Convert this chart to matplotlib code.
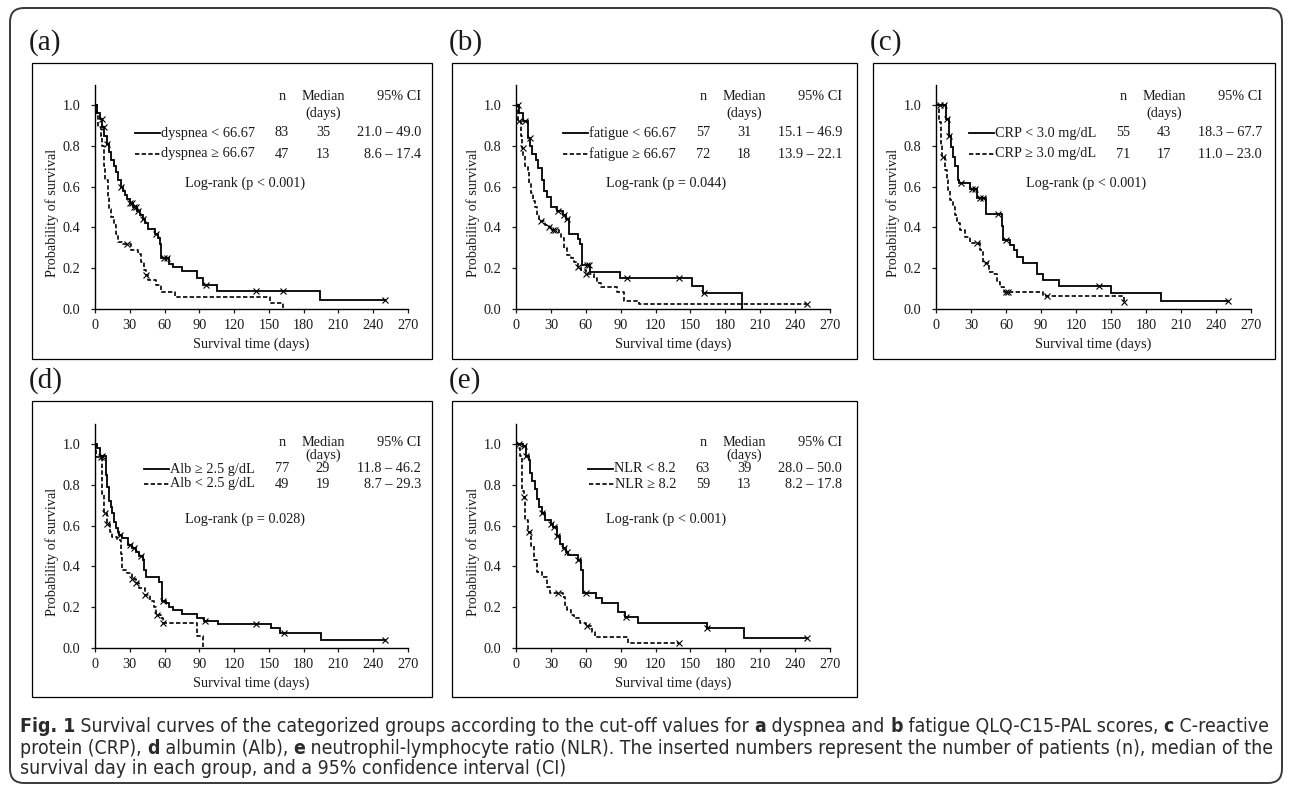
import numpy as np
import matplotlib
matplotlib.use("Agg")
import matplotlib.pyplot as plt
from matplotlib.patches import Rectangle, FancyBboxPatch

# ---- Kaplan-Meier curves (time in days, survival) ----
# (a) dyspnea
dysp_lo_t = [0, 2, 4, 6, 8, 10, 12, 14, 16, 18, 20, 22, 24, 26, 28, 30, 33, 36, 39, 41, 43, 46, 52, 54, 56, 57, 64, 67, 75, 88, 93, 105, 194]
dysp_lo_s = [1.0, 0.96, 0.93, 0.89, 0.85, 0.81, 0.77, 0.73, 0.70, 0.67, 0.63, 0.60, 0.58, 0.56, 0.54, 0.52, 0.50, 0.48, 0.46, 0.44, 0.42, 0.39, 0.37, 0.35, 0.32, 0.25, 0.22, 0.205, 0.188, 0.150, 0.118, 0.090, 0.045]
dysp_lo_cens = [5.7, 7.8, 10.6, 22, 30, 32, 34, 35.5, 37, 41, 53, 59.7, 61.7, 95.4, 139, 162, 250]
dysp_hi_t = [0, 2, 3, 5, 6, 8, 9, 11, 12.5, 14, 16, 18, 20, 24, 31, 37, 40, 42, 44, 46, 53, 57, 69, 151, 162]
dysp_hi_s = [1.0, 0.96, 0.89, 0.85, 0.80, 0.70, 0.63, 0.55, 0.49, 0.45, 0.41, 0.37, 0.33, 0.32, 0.29, 0.27, 0.23, 0.19, 0.167, 0.142, 0.118, 0.085, 0.06, 0.028, 0.0]
dysp_hi_cens = [28, 44]

# (b) fatigue
fat_lo_t = [0, 3, 6, 10, 12, 14, 17, 19, 22, 24, 27, 30, 35, 40, 43, 45.7, 53, 55, 57, 64, 89, 151, 161, 194]
fat_lo_s = [1.0, 0.96, 0.92, 0.84, 0.80, 0.76, 0.73, 0.69, 0.63, 0.58, 0.55, 0.50, 0.48, 0.46, 0.44, 0.37, 0.345, 0.32, 0.215, 0.183, 0.154, 0.114, 0.077, 0.0]
fat_lo_cens = [2, 8, 11.7, 36.3, 41, 44, 61, 63, 95.7, 140, 161.4]
fat_hi_t = [0, 2, 4, 5, 6, 8, 10, 11, 13, 15, 16, 18, 20, 25, 28, 31, 37, 39, 41, 44, 47, 50, 53, 56, 60, 67, 70, 73, 87, 93, 106]
fat_hi_s = [1.0, 0.92, 0.85, 0.79, 0.75, 0.70, 0.67, 0.62, 0.57, 0.53, 0.50, 0.46, 0.43, 0.41, 0.40, 0.387, 0.374, 0.347, 0.30, 0.265, 0.248, 0.232, 0.204, 0.19, 0.17, 0.15, 0.126, 0.11, 0.085, 0.041, 0.023]
fat_hi_cens = [2.5, 5.7, 21.4, 28.6, 31.5, 33.5, 53.7, 60, 250]

# (c) CRP
crp_lo_t = [0, 8.6, 10.9, 12.9, 14.3, 16.6, 18.6, 20, 29.2, 35.5, 42.9, 56.3, 57.8, 63.5, 66.9, 69.2, 74.4, 86.9, 92.1, 105, 150.2, 193]
crp_lo_s = [1.0, 0.93, 0.85, 0.795, 0.747, 0.70, 0.634, 0.62, 0.587, 0.543, 0.466, 0.407, 0.338, 0.314, 0.289, 0.253, 0.224, 0.170, 0.142, 0.113, 0.077, 0.039]
crp_lo_cens = [3, 7.1, 9, 11, 21.4, 30.6, 33.5, 37.8, 40.6, 53.5, 60, 139.3, 250]
crp_hi_t = [0, 2.9, 4.5, 5.5, 8, 9.2, 10.5, 12, 14.9, 16.5, 17.7, 20.6, 24.9, 29.2, 37.8, 40.6, 45.8, 49.2, 52, 54.9, 58, 92, 161]
crp_hi_s = [1.0, 0.916, 0.80, 0.747, 0.68, 0.63, 0.585, 0.535, 0.50, 0.46, 0.42, 0.387, 0.355, 0.322, 0.29, 0.224, 0.183, 0.172, 0.134, 0.11, 0.085, 0.065, 0.033]
crp_hi_cens = [5.7, 34.9, 42.9, 60, 62, 95, 161.3]

# (d) albumin
alb_hi_t = [0, 2, 4, 9.2, 10.7, 12.1, 13.5, 15, 16.5, 17.9, 19.5, 21, 23.6, 28.8, 32, 35.2, 38, 41, 42.4, 43.8, 54.8, 58.2, 61, 64, 67, 75, 88, 94, 106, 152, 160, 195]
alb_hi_s = [1.0, 0.98, 0.94, 0.846, 0.79, 0.72, 0.69, 0.66, 0.62, 0.59, 0.57, 0.553, 0.537, 0.504, 0.488, 0.47, 0.45, 0.43, 0.38, 0.35, 0.325, 0.23, 0.22, 0.20, 0.185, 0.165, 0.148, 0.134, 0.118, 0.096, 0.075, 0.04]
alb_hi_cens = [6.3, 21.3, 30.3, 33.7, 39.5, 58.8, 95.1, 139, 163, 250]
alb_lo_t = [0, 1.2, 6.3, 7.8, 10.7, 13, 15, 19.3, 22.2, 23.6, 28, 31.7, 35.2, 38, 42.9, 47.3, 51, 53, 56.8, 58.8, 88.4, 92.8]
alb_lo_s = [1.0, 0.935, 0.756, 0.66, 0.61, 0.57, 0.545, 0.53, 0.46, 0.38, 0.366, 0.34, 0.317, 0.293, 0.26, 0.228, 0.203, 0.163, 0.146, 0.122, 0.061, 0.0]
alb_lo_cens = [4.9, 8.6, 10.7, 32, 35.5, 43, 53.5, 59]

# (e) NLR
nlr_lo_t = [0, 6, 8.3, 10.9, 12.3, 13.7, 16.6, 18, 20, 22.3, 24.6, 30, 32, 35, 38, 40.5, 43, 45, 53.5, 56, 58, 69, 74, 88, 94, 105, 164, 196]
nlr_lo_s = [1.0, 0.99, 0.94, 0.92, 0.86, 0.82, 0.78, 0.73, 0.69, 0.66, 0.626, 0.607, 0.593, 0.55, 0.51, 0.488, 0.47, 0.455, 0.43, 0.38, 0.27, 0.246, 0.221, 0.175, 0.15, 0.124, 0.096, 0.05]
nlr_lo_cens = [2.3, 6.6, 8.6, 22.5, 30.3, 32.3, 35.2, 40.9, 43.7, 53.7, 60, 95, 164, 250]
nlr_hi_t = [0, 2.3, 3.7, 5.1, 6.6, 8, 10, 13.1, 15.1, 18, 22.3, 26.6, 29, 40, 42, 44, 47, 50, 55, 60, 65, 68, 96]
nlr_hi_s = [1.0, 0.98, 0.94, 0.77, 0.74, 0.626, 0.57, 0.50, 0.43, 0.374, 0.35, 0.30, 0.27, 0.25, 0.21, 0.186, 0.16, 0.145, 0.125, 0.11, 0.08, 0.055, 0.026]
nlr_hi_cens = [6.6, 11.4, 36, 61, 140]

# ---- inserted tables ----
panel_tags = ["(a)", "(b)", "(c)", "(d)", "(e)"]
labels_solid = ["dyspnea < 66.67", "fatigue < 66.67", "CRP < 3.0 mg/dL", "Alb ≥ 2.5 g/dL", "NLR < 8.2"]
labels_dashed = ["dyspnea ≥ 66.67", "fatigue ≥ 66.67", "CRP ≥ 3.0 mg/dL", "Alb < 2.5 g/dL", "NLR ≥ 8.2"]
n_solid = [83, 57, 55, 77, 63]
n_dashed = [47, 72, 71, 49, 59]
median_solid = [35, 31, 43, 29, 39]
median_dashed = [13, 18, 17, 19, 13]
ci_solid = ["21.0 – 49.0", "15.1 – 46.9", "18.3 – 67.7", "11.8 – 46.2", "28.0 – 50.0"]
ci_dashed = ["8.6 – 17.4", "13.9 – 22.1", "11.0 – 23.0", "8.7 – 29.3", "8.2 – 17.8"]
logrank = ["Log-rank (p < 0.001)", "Log-rank (p = 0.044)", "Log-rank (p < 0.001)",
           "Log-rank (p = 0.028)", "Log-rank (p < 0.001)"]
x_ticks = list(range(0, 271, 30))
y_ticks = [0.0, 0.2, 0.4, 0.6, 0.8, 1.0]

solid_t = [dysp_lo_t, fat_lo_t, crp_lo_t, alb_hi_t, nlr_lo_t]
solid_s = [dysp_lo_s, fat_lo_s, crp_lo_s, alb_hi_s, nlr_lo_s]
solid_c = [dysp_lo_cens, fat_lo_cens, crp_lo_cens, alb_hi_cens, nlr_lo_cens]
dashed_t = [dysp_hi_t, fat_hi_t, crp_hi_t, alb_lo_t, nlr_hi_t]
dashed_s = [dysp_hi_s, fat_hi_s, crp_hi_s, alb_lo_s, nlr_hi_s]
dashed_c = [dysp_hi_cens, fat_hi_cens, crp_hi_cens, alb_lo_cens, nlr_hi_cens]

caption_lines = [
    [("Fig. 1", True), (" Survival curves of the categorized groups according to the cut-off values for ", False),
     ("a", True), (" dyspnea and ", False), ("b", True), (" fatigue QLQ-C15-PAL scores, ", False),
     ("c", True), (" C-reactive", False)],
    [("protein (CRP), ", False), ("d", True), (" albumin (Alb), ", False), ("e", True),
     (" neutrophil-lymphocyte ratio (NLR). The inserted numbers represent the number of patients (n), median of the", False)],
    [("survival day in each group, and a 95% confidence interval (CI)", False)],
]

# ---- layout (pixels) ----
W, H = 1290, 793
box_l = [32, 452, 873, 32, 452]
box_r = [432, 857, 1275, 432, 857]
box_t = [63, 63, 63, 401, 401]
box_b = [359, 359, 359, 697, 697]
ax_x0 = [95, 516, 936, 95, 516]
ax_x1 = [408, 830, 1251, 408, 830]
ax_y0 = [309, 309, 309, 648, 648]
px_per_unit = 204.0
rows_top = [34, 50, 70, 91, 120]
rows_bot = [42, 54, 68, 83, 118]

SERIF = ['Liberation Serif', 'DejaVu Serif']
plt.rcParams['font.family'] = SERIF
TXT = '#1a1a1a'
FS = 10.3


def surv_at(ts, ss, t):
    i = np.searchsorted(ts, t, side='right') - 1
    return ss[i]


def draw_km(ax, ts, ss, cens, ls, lw):
    end = max(ts[-1], max(cens))
    x = list(ts) + [end]
    y = list(ss) + [ss[-1]]
    ax.step(x, y, where='post', color='black', lw=lw, linestyle=ls, solid_joinstyle='miter')
    cy = [surv_at(ts, ss, t) for t in cens]
    ax.plot(cens, cy, linestyle='none', marker='x', ms=4.8, mew=0.8, color='black')


fig = plt.figure(figsize=(W / 100, H / 100), dpi=100)
bg = fig.add_axes([0, 0, 1, 1])
bg.set_xlim(0, W)
bg.set_ylim(H, 0)
bg.axis('off')

bg.add_patch(FancyBboxPatch((10, 8), 1272, 775, boxstyle="round,pad=0,rounding_size=14",
                            fc='none', ec='#3a3a3a', lw=1.4))

DASH = (0, (2.6, 1.4))
label_texts = []
for i in range(5):
    bg.add_patch(Rectangle((box_l[i], box_t[i]), box_r[i] - box_l[i], box_b[i] - box_t[i],
                           fc='none', ec='black', lw=0.9))
    bg.text(box_l[i] - 3, box_t[i] - 20, panel_tags[i], fontsize=21, va='center', ha='left', color=TXT)

    h = 1.1 * px_per_unit
    ax = fig.add_axes([ax_x0[i] / W, (H - ax_y0[i]) / H, (ax_x1[i] - ax_x0[i]) / W, h / H])
    ax.set_facecolor('none')
    draw_km(ax, solid_t[i], solid_s[i], solid_c[i], '-', 1.3)
    draw_km(ax, dashed_t[i], dashed_s[i], dashed_c[i], DASH, 1.2)
    ax.set_xlim(0, 270)
    ax.set_ylim(0, 1.1)
    ax.set_xticks(x_ticks)
    ax.set_yticks(y_ticks)
    ax.set_yticklabels([f"{v:.1f}" for v in y_ticks])
    for s in ['top', 'right']:
        ax.spines[s].set_visible(False)
    for s in ['left', 'bottom']:
        ax.spines[s].set_linewidth(1.0)
    ax.tick_params(axis='both', direction='out', length=3, width=0.9, labelsize=FS, colors=TXT)
    ax.tick_params(axis='y', pad=7.5)
    ax.tick_params(axis='x', pad=4.5)
    ax.set_xlabel("Survival time (days)", fontsize=FS, color=TXT)
    ax.set_ylabel("Probability of survival", fontsize=FS, color=TXT)
    ax.xaxis.set_label_coords(0.5, -28.5 / h)
    ax.yaxis.set_label_coords(-36 / (ax_x1[i] - ax_x0[i]), 0.43)

    rows = rows_top if i < 3 else rows_bot
    x0 = ax_x0[i]
    yy = [box_t[i] + r for r in rows]
    bg.text(x0 + 187, yy[0], "n", ha='center', va='center', fontsize=FS, color=TXT)
    bg.text(x0 + 228, yy[0], "Median", ha='center', va='center', fontsize=FS, color=TXT)
    bg.text(x0 + 228, yy[1], "(days)", ha='center', va='center', fontsize=FS, color=TXT)
    bg.text(x0 + 326, yy[0], "95% CI", ha='right', va='center', fontsize=FS, color=TXT)
    for k, (lab, n, med, ci) in enumerate([(labels_solid[i], n_solid[i], median_solid[i], ci_solid[i]),
                                           (labels_dashed[i], n_dashed[i], median_dashed[i], ci_dashed[i])]):
        y = yy[2 + k]
        t = bg.text(x0 + 160, y, lab, ha='right', va='center', fontsize=FS, color=TXT)
        label_texts.append((t, y, '-' if k == 0 else DASH, 1.3 if k == 0 else 1.2))
        bg.text(x0 + 187, y, str(n), ha='center', va='center', fontsize=FS, color=TXT)
        bg.text(x0 + 228, y, str(med), ha='center', va='center', fontsize=FS, color=TXT)
        bg.text(x0 + 326, y, ci, ha='right', va='center', fontsize=FS, color=TXT)
    bg.text(x0 + 150, yy[4], logrank[i], ha='center', va='center', fontsize=FS, color=TXT)

# legend line samples in front of the group labels
fig.canvas.draw()
rend = fig.canvas.get_renderer()
for t, y, ls, lw in label_texts:
    bb = t.get_window_extent(rend)
    bg.plot([bb.x0 - 26, bb.x0 - 1], [y, y], color='black', lw=lw, linestyle=ls)

# caption with bold pieces; first line is fitted to the width it has in the figure
CAP = ['DejaVu Sans']
cap_y = [727, 748, 768]


def draw_caption(size):
    made = []
    for line, y in zip(caption_lines, cap_y):
        prev = None
        for seg, bold in line:
            kw = dict(fontsize=size, family=CAP, fontstretch='condensed', color='#2b2b2b',
                      fontweight='bold' if bold else 'normal')
            if prev is None:
                prev = bg.text(20, y, seg, ha='left', va='center', **kw)
            else:
                prev = bg.annotate(seg, xy=(1, 0), xycoords=prev, ha='left', va='bottom', **kw)
            made.append(prev)
    return made


size = 12.6
parts = draw_caption(size)
fig.canvas.draw()
n1 = len(caption_lines[0])
width1 = parts[n1 - 1].get_window_extent(rend).x1 - parts[0].get_window_extent(rend).x0
for p in parts:
    p.remove()
draw_caption(size * 1245.0 / width1)

fig.savefig("out.png", dpi=100)
